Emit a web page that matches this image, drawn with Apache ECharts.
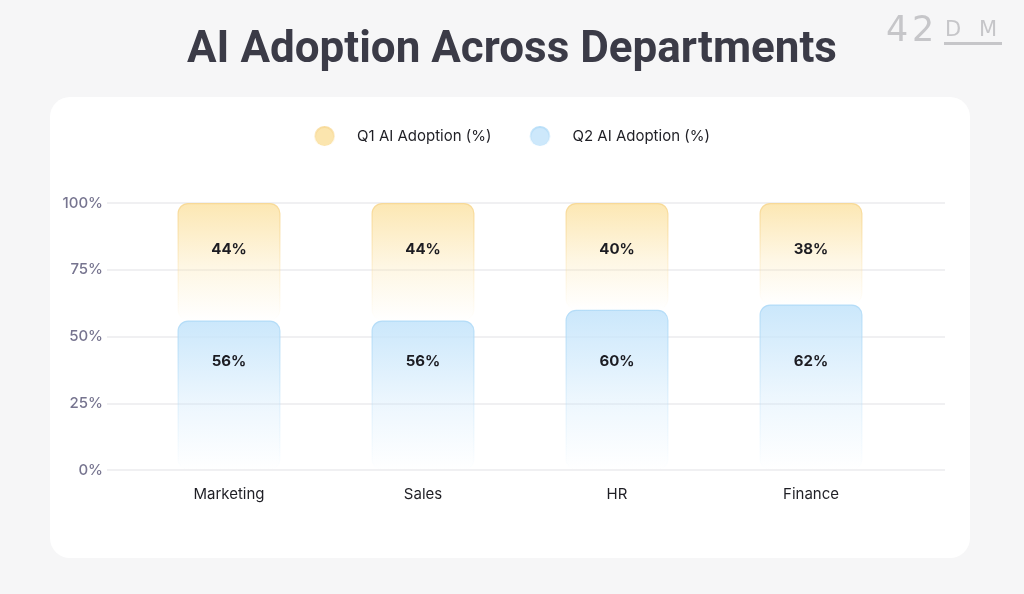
<!DOCTYPE html>
<html>
<head>
<meta charset="utf-8">
<script src="https://cdn.jsdelivr.net/npm/echarts@6/dist/echarts.min.js"></script>
<style>
  html, body { margin: 0; padding: 0; background: #f6f6f7; }
  #chart { width: 1024px; height: 594px; }
</style>
</head>
<body>
<div id="chart"></div>
<script>
  const departments = ['Marketing', 'Sales', 'HR', 'Finance'];
  const q1Adoption = [44, 44, 40, 38];
  const q2Adoption = [56, 56, 60, 62];
  const yTicks = [0, 25, 50, 75, 100];

  const chart = echarts.init(document.getElementById('chart'));

  // vertical fade used for both fill and outline
  const fade = (r, g, b, a) => new echarts.graphic.LinearGradient(0, 0, 0, 1, [
    { offset: 0, color: `rgba(${r},${g},${b},${a})` },
    { offset: 0.55, color: `rgba(${r},${g},${b},${a * 0.35})` },
    { offset: 1, color: `rgba(${r},${g},${b},0)` },
  ]);

  const labelText = {
    show: true,
    formatter: '{c}%',
    color: '#1c1c22',
    fontSize: 15,
    fontWeight: 'bold',
    fontFamily: 'Inter',
  };

  const logoStyle = { fontFamily: 'DejaVu Sans', fontWeight: 'normal', fill: '#c6c6c9' };

  const option = {
    backgroundColor: '#f6f6f7',
    animation: false,
    title: {
      text: 'AI Adoption Across Departments',
      left: 'center',
      top: 24,
      textStyle: { fontSize: 44, fontWeight: 'bold', color: '#3b3b47', fontFamily: 'Roboto' },
    },
    graphic: [
      {
        type: 'rect',
        shape: { x: 50, y: 97, width: 920, height: 461, r: 20 },
        style: { fill: '#ffffff' },
        z: -10,
      },
      { type: 'text', left: 886, top: 14, style: Object.assign({ text: '4', fontSize: 35 }, logoStyle) },
      { type: 'text', left: 912, top: 14, style: Object.assign({ text: '2', fontSize: 35 }, logoStyle) },
      { type: 'text', left: 945, top: 20, style: Object.assign({ text: 'D', fontSize: 21 }, logoStyle) },
      { type: 'text', left: 979, top: 20, style: Object.assign({ text: 'M', fontSize: 21 }, logoStyle) },
      {
        type: 'rect',
        shape: { x: 944, y: 42, width: 58, height: 3 },
        style: { fill: '#c6c6c9' },
      },
    ],
    legend: {
      top: 121,
      left: 'center',
      icon: 'circle',
      itemWidth: 19,
      itemHeight: 19,
      itemGap: 38,
      textStyle: { fontSize: 15, color: '#1f1f25', fontFamily: 'Inter', padding: [0, 0, 0, 18] },
      data: [
        { name: 'Q1 AI Adoption (%)', itemStyle: { color: '#fbe5ae' } },
        { name: 'Q2 AI Adoption (%)', itemStyle: { color: '#cde8fb' } },
      ],
    },
    grid: [
      { left: 132, right: 116, top: 203, bottom: 124 },
      { left: 107, right: 79, top: 203, bottom: 124 },
    ],
    xAxis: [
      {
        type: 'category',
        gridIndex: 0,
        data: departments,
        axisLine: { show: false },
        axisTick: { show: false },
        axisLabel: { color: '#1f1f25', fontSize: 15, fontFamily: 'Inter', margin: 17 },
      },
      { type: 'value', gridIndex: 1, min: 0, max: 1, show: false },
    ],
    yAxis: [
      { type: 'value', gridIndex: 0, min: 0, max: 100, interval: 25, show: false },
      {
        type: 'value',
        gridIndex: 1,
        min: yTicks[0],
        max: yTicks[yTicks.length - 1],
        interval: yTicks[1] - yTicks[0],
        axisLine: { show: false },
        axisTick: { show: false },
        axisLabel: { formatter: '{value}%', color: '#76748f', fontSize: 15, fontWeight: 500, fontFamily: 'Inter', margin: 4 },
        splitLine: { lineStyle: { color: '#ebebee', width: 1.5 } },
      },
    ],
    series: [
      {
        name: 'Q2 AI Adoption (%)',
        type: 'bar',
        stack: 'total',
        xAxisIndex: 0,
        yAxisIndex: 0,
        barWidth: 103,
        data: q2Adoption,
        itemStyle: {
          color: fade(200, 230, 251, 0.95),
          borderColor: fade(175, 218, 247, 0.9),
          borderWidth: 1.2,
          borderRadius: 10,
        },
        label: Object.assign({ position: 'insideBottom', distance: 101 }, labelText),
      },
      {
        name: 'Q1 AI Adoption (%)',
        type: 'bar',
        stack: 'total',
        xAxisIndex: 0,
        yAxisIndex: 0,
        barWidth: 103,
        data: q1Adoption,
        itemStyle: {
          color: fade(252, 230, 175, 0.95),
          borderColor: fade(247, 215, 145, 0.9),
          borderWidth: 1.2,
          borderRadius: 10,
        },
        label: Object.assign({ position: 'insideTop', distance: 39 }, labelText),
      },
    ],
  };

  chart.setOption(option);
</script>
</body>
</html>
